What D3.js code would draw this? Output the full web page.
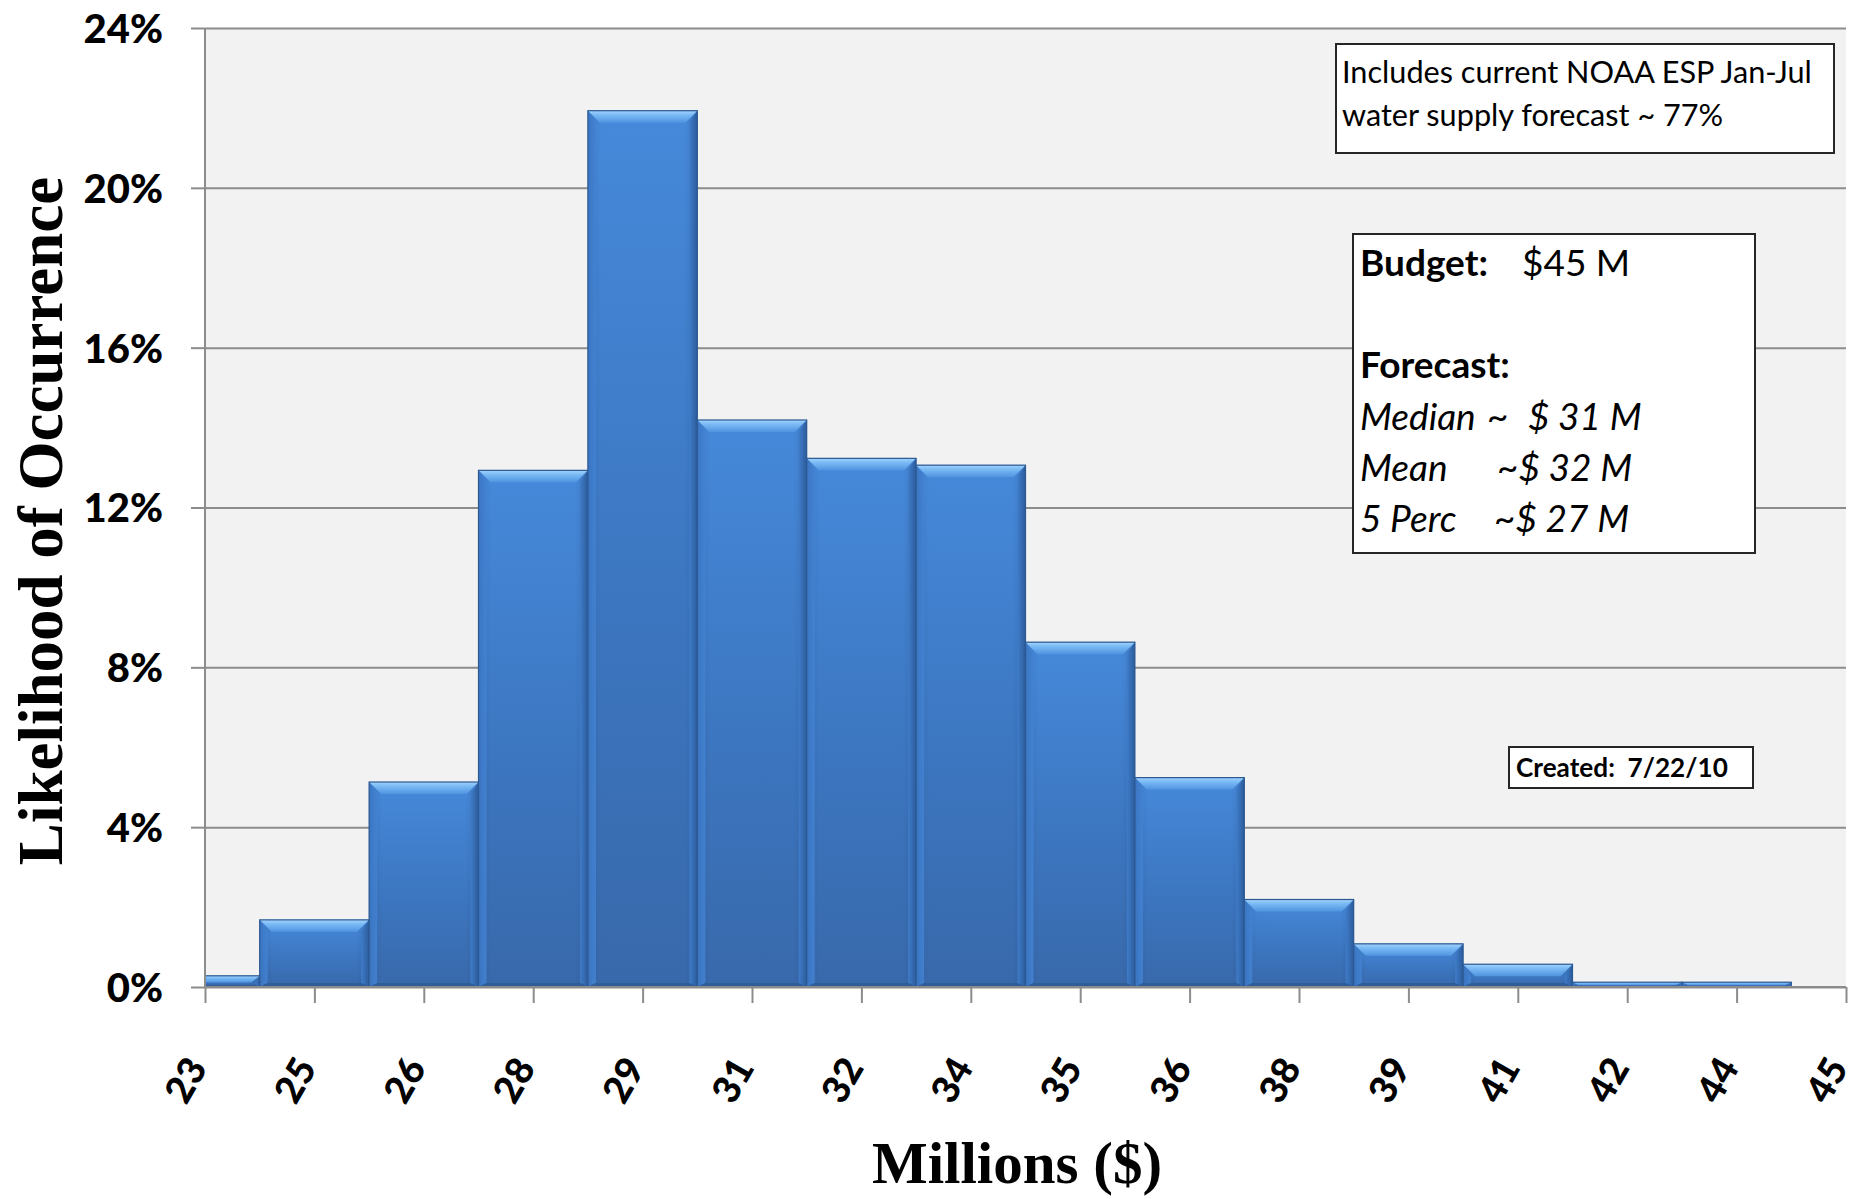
<!DOCTYPE html>
<html>
<head>
<meta charset="utf-8">
<script src="https://cdn.jsdelivr.net/npm/d3@7"></script>
<style>
  html, body { margin: 0; padding: 0; background: #ffffff; }
  svg { display: block; }
</style>
</head>
<body>
<svg id="chart" width="1858" height="1199"></svg>
<script>
// Bin labels along the x axis (millions of dollars)
const binLabels = ["23", "25", "26", "28", "29", "31", "32", "34", "35", "36", "38", "39", "41", "42", "44", "45"];
// Likelihood of each bin, one bar per bin label (the last label has no bar)
const likelihood = [0.0028, 0.0168, 0.0513, 0.1293, 0.2193, 0.1419, 0.1323, 0.1306, 0.0863, 0.0524, 0.0219, 0.0108, 0.0057, 0.0012, 0.0012];
// Y axis ticks
const yTicks = [0, 0.04, 0.08, 0.12, 0.16, 0.20, 0.24];

// Annotation texts
const noteLines = ["Includes current NOAA ESP Jan-Jul", "water supply forecast ~ 77%"];
const budgetLabel = "Budget:";
const budgetValue = "$45 M";
const forecastLabel = "Forecast:";
const forecastNames = ["Median", "Mean", "5 Perc"];
const forecastValues = ["~", "~$ 32 M", "~$ 27 M"];
const medianValue = "$ 31 M";
const createdText = "Created:  7/22/10";

const svg = d3.select("#chart");
const plot = { left: 205, right: 1846, top: 28, bottom: 987 };

const x = d3.scaleLinear().domain([0, binLabels.length - 1]).range([plot.left, plot.right]);
const y = d3.scaleLinear().domain([0, 0.24]).range([plot.bottom, plot.top]);

const defs = svg.append("defs");
defs.append("clipPath").attr("id", "plotClip")
  .append("rect")
  .attr("x", plot.left).attr("y", plot.top - 2)
  .attr("width", plot.right - plot.left).attr("height", plot.bottom - plot.top + 2);

function grad(id, stops, vertical = true) {
  const g = defs.append("linearGradient").attr("id", id)
    .attr("x1", 0).attr("y1", 0).attr("x2", vertical ? 0 : 1).attr("y2", vertical ? 1 : 0);
  stops.forEach(([o, c]) => g.append("stop").attr("offset", o).attr("stop-color", c));
}
grad("faceGrad", [[0, "#4689da"], [0.5, "#3d78c3"], [1, "#3869ab"]]);
grad("faceSide", [[0, "rgba(30,60,110,0.18)"], [0.12, "rgba(30,60,110,0)"], [0.88, "rgba(30,60,110,0)"], [1, "rgba(30,60,110,0.22)"]], false);
grad("bevelTop", [[0, "#a3d3fc"], [0.35, "#7abaf5"], [1, "#5094e0"]]);
grad("bevelLeft", [[0, "#3a75c2"], [1, "#4383d3"]], false);
grad("bevelRight", [[0, "#3f7cc9"], [1, "#2c5c9b"]], false);

// Plot background
svg.append("rect")
  .attr("x", plot.left).attr("y", plot.top)
  .attr("width", plot.right - plot.left).attr("height", plot.bottom - plot.top)
  .attr("fill", "#f2f2f2");

// Horizontal gridlines
const grid = svg.append("g")
  .attr("transform", `translate(${plot.left},0)`)
  .call(d3.axisLeft(y).tickValues(yTicks).tickSize(-(plot.right - plot.left)).tickFormat(""));
grid.select(".domain").remove();
grid.selectAll("line").attr("stroke", "#8c8c8c").attr("stroke-width", 2);

// Bars with bevelled edges
const barsG = svg.append("g").attr("clip-path", "url(#plotClip)");
const bars = barsG.selectAll("g.bar").data(likelihood).join("g").attr("class", "bar");

bars.each(function (d, i) {
  const g = d3.select(this);
  const x0 = x(i - 0.5), x1 = x(i + 0.5);
  const w = x1 - x0;
  const yt = y(d), yb = y(0);
  const h = yb - yt;
  const b = Math.min(12, h * 0.6);
  const s = Math.min(8, h * 0.4);

  g.append("rect").attr("x", x0).attr("y", yt).attr("width", w).attr("height", h)
    .attr("fill", "url(#faceGrad)");
  g.append("rect").attr("x", x0).attr("y", yt).attr("width", w).attr("height", h)
    .attr("fill", "url(#faceSide)");
  // left edge
  g.append("polygon")
    .attr("points", [[x0, yt], [x0 + s, yt + b], [x0 + s, yb - s * 0.5], [x0, yb]].join(" "))
    .attr("fill", "url(#bevelLeft)").attr("opacity", 0.9);
  // right edge
  g.append("polygon")
    .attr("points", [[x1, yt], [x1 - s, yt + b], [x1 - s, yb - s * 0.5], [x1, yb]].join(" "))
    .attr("fill", "url(#bevelRight)");
  // bottom edge
  g.append("polygon")
    .attr("points", [[x0, yb], [x0 + s, yb - s * 0.5], [x1 - s, yb - s * 0.5], [x1, yb]].join(" "))
    .attr("fill", "#2f5d98");
  // top chamfer
  g.append("polygon")
    .attr("points", [[x0, yt], [x1, yt], [x1 - s - 4, yt + b], [x0 + s + 4, yt + b]].join(" "))
    .attr("fill", "url(#bevelTop)");
  g.append("rect").attr("x", x0).attr("y", yt).attr("width", w).attr("height", h)
    .attr("fill", "none").attr("stroke", "#2c5993").attr("stroke-width", 1.2);
});

// Y axis
const yAxis = svg.append("g")
  .attr("transform", `translate(${plot.left},0)`)
  .call(d3.axisLeft(y).tickValues(yTicks).tickSize(14).tickPadding(28).tickFormat(d3.format(".0%")));
yAxis.select(".domain").attr("stroke", "#8c8c8c").attr("stroke-width", 2)
  .attr("d", `M0,${plot.top}V${plot.bottom}`);
yAxis.selectAll(".tick line").attr("stroke", "#8c8c8c").attr("stroke-width", 2);
yAxis.selectAll(".tick text")
  .attr("font-family", "Lato, 'Open Sans', sans-serif")
  .attr("font-weight", 900).attr("font-size", 40).attr("fill", "#000")
  .attr("dy", "0.36em");

// X axis
const xAxis = svg.append("g")
  .attr("transform", `translate(0,${plot.bottom})`)
  .call(d3.axisBottom(x).tickValues(d3.range(binLabels.length)).tickSize(16)
    .tickFormat(i => binLabels[i]));
xAxis.select(".domain").attr("stroke", "#8c8c8c").attr("stroke-width", 2)
  .attr("d", `M${plot.left},0H${plot.right}`);
xAxis.selectAll(".tick line").attr("stroke", "#8c8c8c").attr("stroke-width", 2);
xAxis.selectAll(".tick text")
  .attr("font-family", "Lato, 'Open Sans', sans-serif")
  .attr("font-weight", 900).attr("font-size", 38).attr("fill", "#000")
  .attr("text-anchor", "middle")
  .attr("y", 0).attr("dy", "0.36em")
  .attr("transform", "translate(-20,93) rotate(-60)");

// Axis titles
svg.append("text")
  .attr("transform", "translate(62,521) rotate(-90)")
  .attr("text-anchor", "middle")
  .attr("font-family", "'Liberation Serif', 'Times New Roman', serif")
  .attr("font-weight", "bold").attr("font-size", 63).attr("fill", "#000")
  .text("Likelihood of Occurrence");

svg.append("text")
  .attr("x", 1017).attr("y", 1183)
  .attr("text-anchor", "middle")
  .attr("font-family", "'Liberation Serif', 'Times New Roman', serif")
  .attr("font-weight", "bold").attr("font-size", 59).attr("fill", "#000")
  .text("Millions ($)");

// Annotation boxes
const sans = "Lato, 'Open Sans', sans-serif";
function fitWidth(sel, target) {
  const fs = parseFloat(sel.attr("font-size"));
  const len = sel.node().getComputedTextLength();
  const nfs = fs * target / len;
  sel.attr("font-size", nfs);
  return nfs;
}
function box(x0, y0, x1, y1) {
  svg.append("rect").attr("x", x0).attr("y", y0).attr("width", x1 - x0).attr("height", y1 - y0)
    .attr("fill", "#ffffff").attr("stroke", "#262626").attr("stroke-width", 2);
}

box(1336, 44, 1834, 153);
const n1 = svg.append("text").attr("x", 1342).attr("y", 83)
  .attr("font-family", sans).attr("font-size", 31).attr("fill", "#000").text(noteLines[0]);
const nfs = fitWidth(n1, 470);
svg.append("text").attr("x", 1342).attr("y", 126)
  .attr("font-family", sans).attr("font-size", nfs).attr("fill", "#000").text(noteLines[1]);

box(1353, 234, 1755, 553);
const bl = svg.append("text").attr("x", 1360).attr("y", 276)
  .attr("font-family", sans).attr("font-weight", "bold").attr("font-size", 37).attr("fill", "#000")
  .text(budgetLabel);
const bfs = fitWidth(bl, 128);
svg.append("text").attr("x", 1522).attr("y", 276)
  .attr("font-family", sans).attr("font-size", bfs).attr("fill", "#000").text(budgetValue);
svg.append("text").attr("x", 1360).attr("y", 378)
  .attr("font-family", sans).attr("font-weight", "bold").attr("font-size", bfs).attr("fill", "#000")
  .text(forecastLabel);

const rowY = [430, 481, 532];
const valueX = [1487, 1497, 1494];
forecastNames.forEach((name, i) => {
  svg.append("text").attr("x", 1360).attr("y", rowY[i])
    .attr("font-family", sans).attr("font-style", "italic").attr("font-size", bfs).attr("fill", "#000")
    .text(name);
  svg.append("text").attr("x", valueX[i]).attr("y", rowY[i])
    .attr("font-family", sans).attr("font-style", "italic").attr("font-size", bfs).attr("fill", "#000")
    .text(forecastValues[i]);
});
svg.append("text").attr("x", 1528).attr("y", rowY[0])
  .attr("font-family", sans).attr("font-style", "italic").attr("font-size", bfs).attr("fill", "#000")
  .text(medianValue);

box(1509, 747, 1753, 788);
const ct = svg.append("text").attr("x", 1516).attr("y", 777)
  .attr("font-family", sans).attr("font-weight", "bold").attr("font-size", 27).attr("fill", "#000")
  .style("white-space", "pre")
  .text(createdText);
fitWidth(ct, 212);
</script>
</body>
</html>
